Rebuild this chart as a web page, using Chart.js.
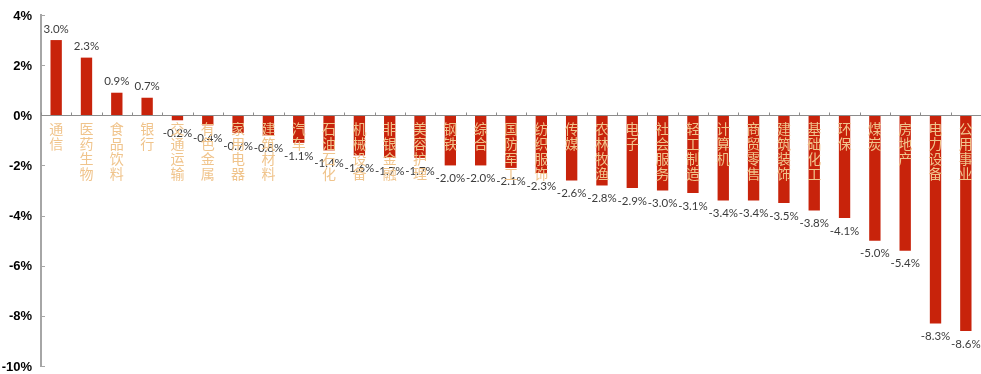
<!DOCTYPE html>
<html>
<head>
<meta charset="utf-8">
<script src="https://cdn.jsdelivr.net/npm/chart.js@4.4.1/dist/chart.umd.min.js"></script>
<style>
  html, body { margin: 0; padding: 0; background: #ffffff; }
  #wrap { width: 981px; height: 374px; position: relative; }
</style>
</head>
<body>
<div id="wrap"><canvas id="c"></canvas></div>
<script>
// 行业周涨跌幅（%）
const industries = ['通信','医药生物','食品饮料','银行','交通运输','有色金属','家用电器','建筑材料','汽车','石油石化',
  '机械设备','非银金融','美容护理','钢铁','综合','国防军工','纺织服饰','传媒','农林牧渔','电子',
  '社会服务','轻工制造','计算机','商贸零售','建筑装饰','基础化工','环保','煤炭','房地产','电力设备','公用事业'];
const changes = [3.0, 2.3, 0.9, 0.7, -0.2, -0.4, -0.7, -0.8, -1.1, -1.4,
  -1.6, -1.7, -1.7, -2.0, -2.0, -2.1, -2.3, -2.6, -2.8, -2.9,
  -3.0, -3.1, -3.4, -3.4, -3.5, -3.8, -4.1, -5.0, -5.4, -8.3, -8.6];
const yTicks = [-10, -8, -6, -4, -2, 0, 2, 4];

const AXIS_COLOR = '#a6a6a6';

// Axis labels, tick marks, value labels and vertical industry names
const decorations = {
  id: 'decorations',
  afterDatasetsDraw(chart) {
    const { ctx, scales: { x, y }, chartArea } = chart;
    const zeroY = y.getPixelForValue(0);
    ctx.save();

    // y tick marks (pointing into the plot) and percentage labels
    ctx.strokeStyle = AXIS_COLOR;
    ctx.lineWidth = 1;
    ctx.font = 'bold 13px Arial, "Liberation Sans", sans-serif';
    ctx.fillStyle = '#000000';
    ctx.textAlign = 'right';
    ctx.textBaseline = 'middle';
    yTicks.forEach(v => {
      const yp = y.getPixelForValue(v);
      const py = Math.round(yp) + 0.5;
      ctx.beginPath();
      ctx.moveTo(chartArea.left, py);
      ctx.lineTo(chartArea.left + 4, py);
      ctx.stroke();
      ctx.fillText(v + '%', chartArea.left - 9, yp + 1);
    });

    // zero line with category boundary ticks
    ctx.strokeStyle = '#8c8c8c';
    ctx.lineWidth = 1;
    const zy = Math.round(zeroY) + 0.5;
    ctx.beginPath();
    ctx.moveTo(chartArea.left, zy);
    ctx.lineTo(chartArea.right, zy);
    ctx.stroke();
    const step = x.getPixelForValue(1) - x.getPixelForValue(0);
    for (let i = 0; i <= industries.length; i++) {
      const px = Math.round(x.getPixelForValue(i) - step / 2) + 0.5;
      ctx.beginPath();
      ctx.moveTo(px, zy - 3);
      ctx.lineTo(px, zy);
      ctx.stroke();
    }

    // value labels
    ctx.font = '11.5px Lato, "Open Sans", sans-serif';
    ctx.fillStyle = '#3c3c3c';
    ctx.textAlign = 'center';
    ctx.textBaseline = 'middle';
    changes.forEach((v, i) => {
      const px = x.getPixelForValue(i);
      const py = y.getPixelForValue(v);
      const ty = v >= 0 ? py - 11 : py + 13;
      ctx.fillText(v.toFixed(1) + '%', px, ty);
    });

    // industry names, one character per line
    ctx.font = '14px "Noto Sans CJK SC", sans-serif';
    ctx.fillStyle = '#f0c48c';
    ctx.textBaseline = 'top';
    industries.forEach((name, i) => {
      const px = x.getPixelForValue(i);
      [...name].forEach((ch, k) => {
        ctx.fillText(ch, px, zeroY + 6 + k * 15);
      });
    });
    ctx.restore();
  }
};

new Chart(document.getElementById('c'), {
  type: 'bar',
  data: {
    labels: industries,
    datasets: [{
      data: changes,
      backgroundColor: '#c8230b',
      barPercentage: 0.72,
      categoryPercentage: 0.52
    }]
  },
  options: {
    responsive: true,
    maintainAspectRatio: false,
    animation: false,
    layout: { padding: { top: 15, bottom: 8, left: 41, right: 0 } },
    plugins: { legend: { display: false }, tooltip: { enabled: false } },
    scales: {
      x: {
        display: false
      },
      y: {
        min: -10,
        max: 4,
        afterBuildTicks(axis) { axis.ticks = yTicks.map(v => ({ value: v })); },
        grid: { display: false, drawTicks: false },
        border: { display: true, color: AXIS_COLOR, width: 2 },
        ticks: { display: false }
      }
    }
  },
  plugins: [decorations]
});
</script>
</body>
</html>
